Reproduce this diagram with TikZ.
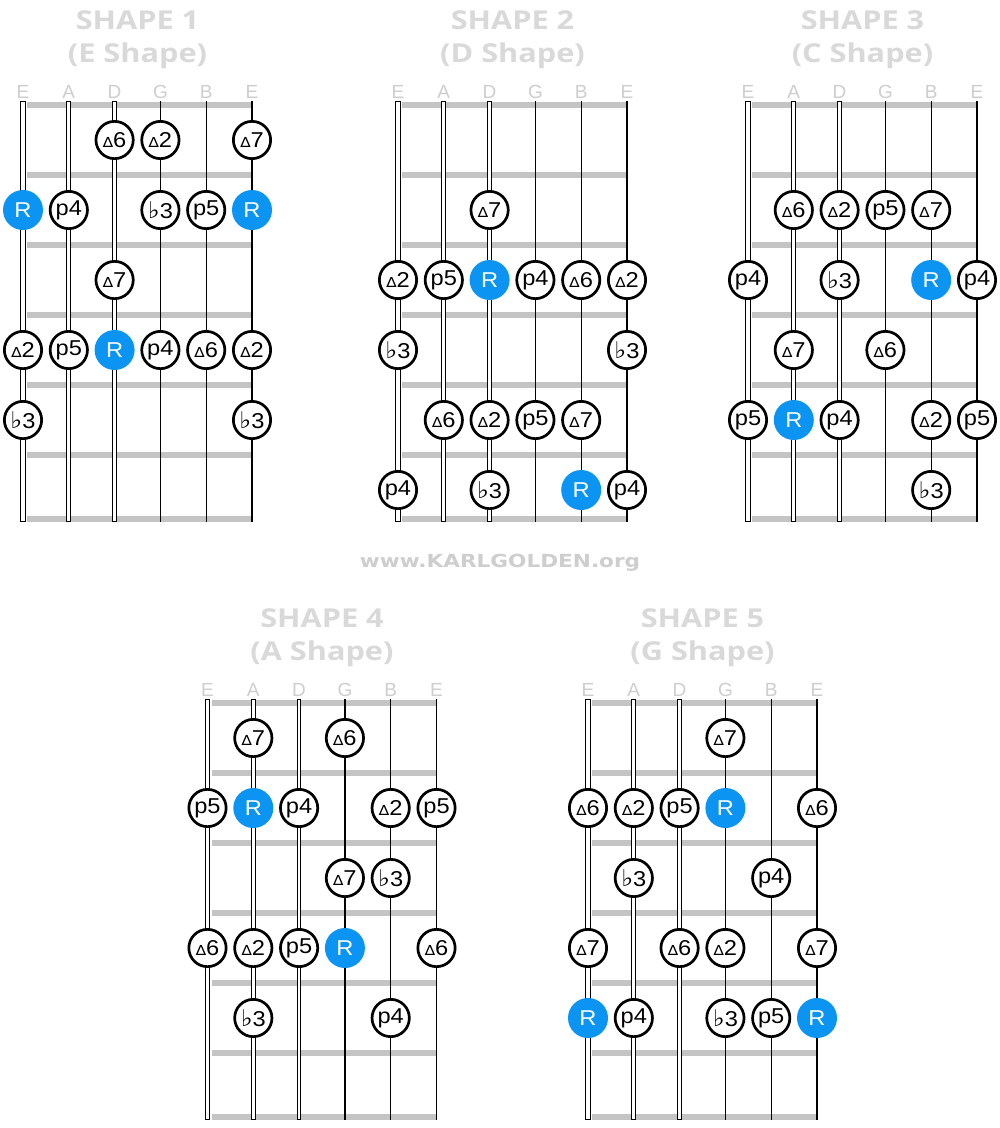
\documentclass[tikz,border=0pt]{standalone}
\usepackage{fontspec}
\usetikzlibrary{calc}
\setmainfont{Liberation Sans}
\newfontfamily\titlefont{Open Sans}
\newfontfamily\webfont{DejaVu Sans}
\newfontfamily\symfont{DejaVu Sans}
\definecolor{rootblue}{RGB}{12,148,242}
\definecolor{fretgray}{RGB}{196,196,196}
\definecolor{titlegray}{RGB}{217,217,217}
\definecolor{labelgray}{RGB}{206,206,206}
\newcommand{\tr}{{\symfont\fontsize{14}{14}\selectfont ∆}}
\newcommand{\fl}{{\symfont\fontsize{23}{23}\selectfont ♭}}
\newcommand{\lbl}[1]{\scalebox{1.1}[1]{#1}}
\newcommand{\ttl}[1]{\scalebox{1.18}[1]{#1}}
\tikzset{
  note/.style={circle,draw=black,line width=2.7pt,fill=white,minimum size=37.3pt,inner sep=0pt,font=\fontsize{21.5}{24}\selectfont},
  rootnote/.style={circle,fill=rootblue,draw=none,minimum size=40pt,inner sep=0pt,text=white,font=\fontsize{21.5}{24}\selectfont},
  titletext/.style={text=titlegray,font=\titlefont\bfseries\fontsize{26}{30}\selectfont,anchor=base},
  strlabel/.style={text=labelgray,font=\fontsize{19}{22}\selectfont,anchor=base},
  thinstring/.style={line width=1.3pt},
  webtext/.style={text=labelgray,font=\webfont\bfseries\fontsize{18}{20}\selectfont,anchor=base}
}
\newcommand{\board}[5]{%
  \coordinate (b#1o) at (#2,#3);
  \foreach \fy in {0,70,140,210,280,350,414} {
    \fill[fretgray] ($(b#1o)+(4,\fy-3.2)$) rectangle ($(b#1o)+(229,\fy+3.2)$);
  }
  \foreach \i/\w/\iw in {0/5.4/3.6,1/4.9/3.1,2/4.3/2.5} {
    \draw[line width=\w pt] ($(b#1o)+(\i*45.8,-4)$) -- ($(b#1o)+(\i*45.8,417)$);
    \draw[white,line width=\iw pt] ($(b#1o)+(\i*45.8,-3)$) -- ($(b#1o)+(\i*45.8,416)$);
  }
  \foreach \i in {3,4,5} {
    \draw[thinstring] ($(b#1o)+(\i*45.8,-4)$) -- ($(b#1o)+(\i*45.8,417)$);
  }
  \foreach \i/\l in {0/E,1/A,2/D,3/G,4/B,5/E} {
    \node[strlabel] (b#1l\i) at ($(b#1o)+(\i*45.8,-7)$) {\l};
  }
  \node[titletext] (b#1t) at ($(b#1o)+(114.5,-76)$) {\ttl{#4}};
  \node[titletext] (b#1s) at ($(b#1o)+(114.5,-43)$) {\ttl{#5}};
}
\newcommand{\nt}[4]{\node[note] (b#1s#2r#3) at ($(b#1o)+({(#2-1)*45.8},{(#3-1)*70+35})$) {\lbl{#4}};}
\newcommand{\rt}[3]{\node[rootnote] (b#1s#2r#3) at ($(b#1o)+({(#2-1)*45.8},{(#3-1)*70+35})$) {\lbl{R}};}
\begin{document}
\begin{tikzpicture}[x=1pt,y=-1pt]
\useasboundingbox[fill=white] (0,0) rectangle (1000,1128);
\board{1}{23}{105}{SHAPE 1}{(E Shape)}
\board{2}{398}{105}{SHAPE 2}{(D Shape)}
\board{3}{748}{105}{SHAPE 3}{(C Shape)}
\board{4}{207.5}{703}{SHAPE 4}{(A Shape)}
\board{5}{588}{703}{SHAPE 5}{(G Shape)}
\node[webtext] (web) at (500,567) {\scalebox{1.2}[1]{www.KARLGOLDEN.org}};
% board 1
\nt{1}{3}{1}{\tr6} \nt{1}{4}{1}{\tr2} \nt{1}{6}{1}{\tr7}
\rt{1}{1}{2} \nt{1}{2}{2}{p4} \nt{1}{4}{2}{\fl3} \nt{1}{5}{2}{p5} \rt{1}{6}{2}
\nt{1}{3}{3}{\tr7}
\nt{1}{1}{4}{\tr2} \nt{1}{2}{4}{p5} \rt{1}{3}{4} \nt{1}{4}{4}{p4} \nt{1}{5}{4}{\tr6} \nt{1}{6}{4}{\tr2}
\nt{1}{1}{5}{\fl3} \nt{1}{6}{5}{\fl3}
% board 2
\nt{2}{3}{2}{\tr7}
\nt{2}{1}{3}{\tr2} \nt{2}{2}{3}{p5} \rt{2}{3}{3} \nt{2}{4}{3}{p4} \nt{2}{5}{3}{\tr6} \nt{2}{6}{3}{\tr2}
\nt{2}{1}{4}{\fl3} \nt{2}{6}{4}{\fl3}
\nt{2}{2}{5}{\tr6} \nt{2}{3}{5}{\tr2} \nt{2}{4}{5}{p5} \nt{2}{5}{5}{\tr7}
\nt{2}{1}{6}{p4} \nt{2}{3}{6}{\fl3} \rt{2}{5}{6} \nt{2}{6}{6}{p4}
% board 3
\nt{3}{2}{2}{\tr6} \nt{3}{3}{2}{\tr2} \nt{3}{4}{2}{p5} \nt{3}{5}{2}{\tr7}
\nt{3}{1}{3}{p4} \nt{3}{3}{3}{\fl3} \rt{3}{5}{3} \nt{3}{6}{3}{p4}
\nt{3}{2}{4}{\tr7} \nt{3}{4}{4}{\tr6}
\nt{3}{1}{5}{p5} \rt{3}{2}{5} \nt{3}{3}{5}{p4} \nt{3}{5}{5}{\tr2} \nt{3}{6}{5}{p5}
\nt{3}{5}{6}{\fl3}
% board 4
\nt{4}{2}{1}{\tr7} \nt{4}{4}{1}{\tr6}
\nt{4}{1}{2}{p5} \rt{4}{2}{2} \nt{4}{3}{2}{p4} \nt{4}{5}{2}{\tr2} \nt{4}{6}{2}{p5}
\nt{4}{4}{3}{\tr7} \nt{4}{5}{3}{\fl3}
\nt{4}{1}{4}{\tr6} \nt{4}{2}{4}{\tr2} \nt{4}{3}{4}{p5} \rt{4}{4}{4} \nt{4}{6}{4}{\tr6}
\nt{4}{2}{5}{\fl3} \nt{4}{5}{5}{p4}
% board 5
\nt{5}{4}{1}{\tr7}
\nt{5}{1}{2}{\tr6} \nt{5}{2}{2}{\tr2} \nt{5}{3}{2}{p5} \rt{5}{4}{2} \nt{5}{6}{2}{\tr6}
\nt{5}{2}{3}{\fl3} \nt{5}{5}{3}{p4}
\nt{5}{1}{4}{\tr7} \nt{5}{3}{4}{\tr6} \nt{5}{4}{4}{\tr2} \nt{5}{6}{4}{\tr7}
\rt{5}{1}{5} \nt{5}{2}{5}{p4} \nt{5}{4}{5}{\fl3} \nt{5}{5}{5}{p5} \rt{5}{6}{5}
\end{tikzpicture}
\end{document}
